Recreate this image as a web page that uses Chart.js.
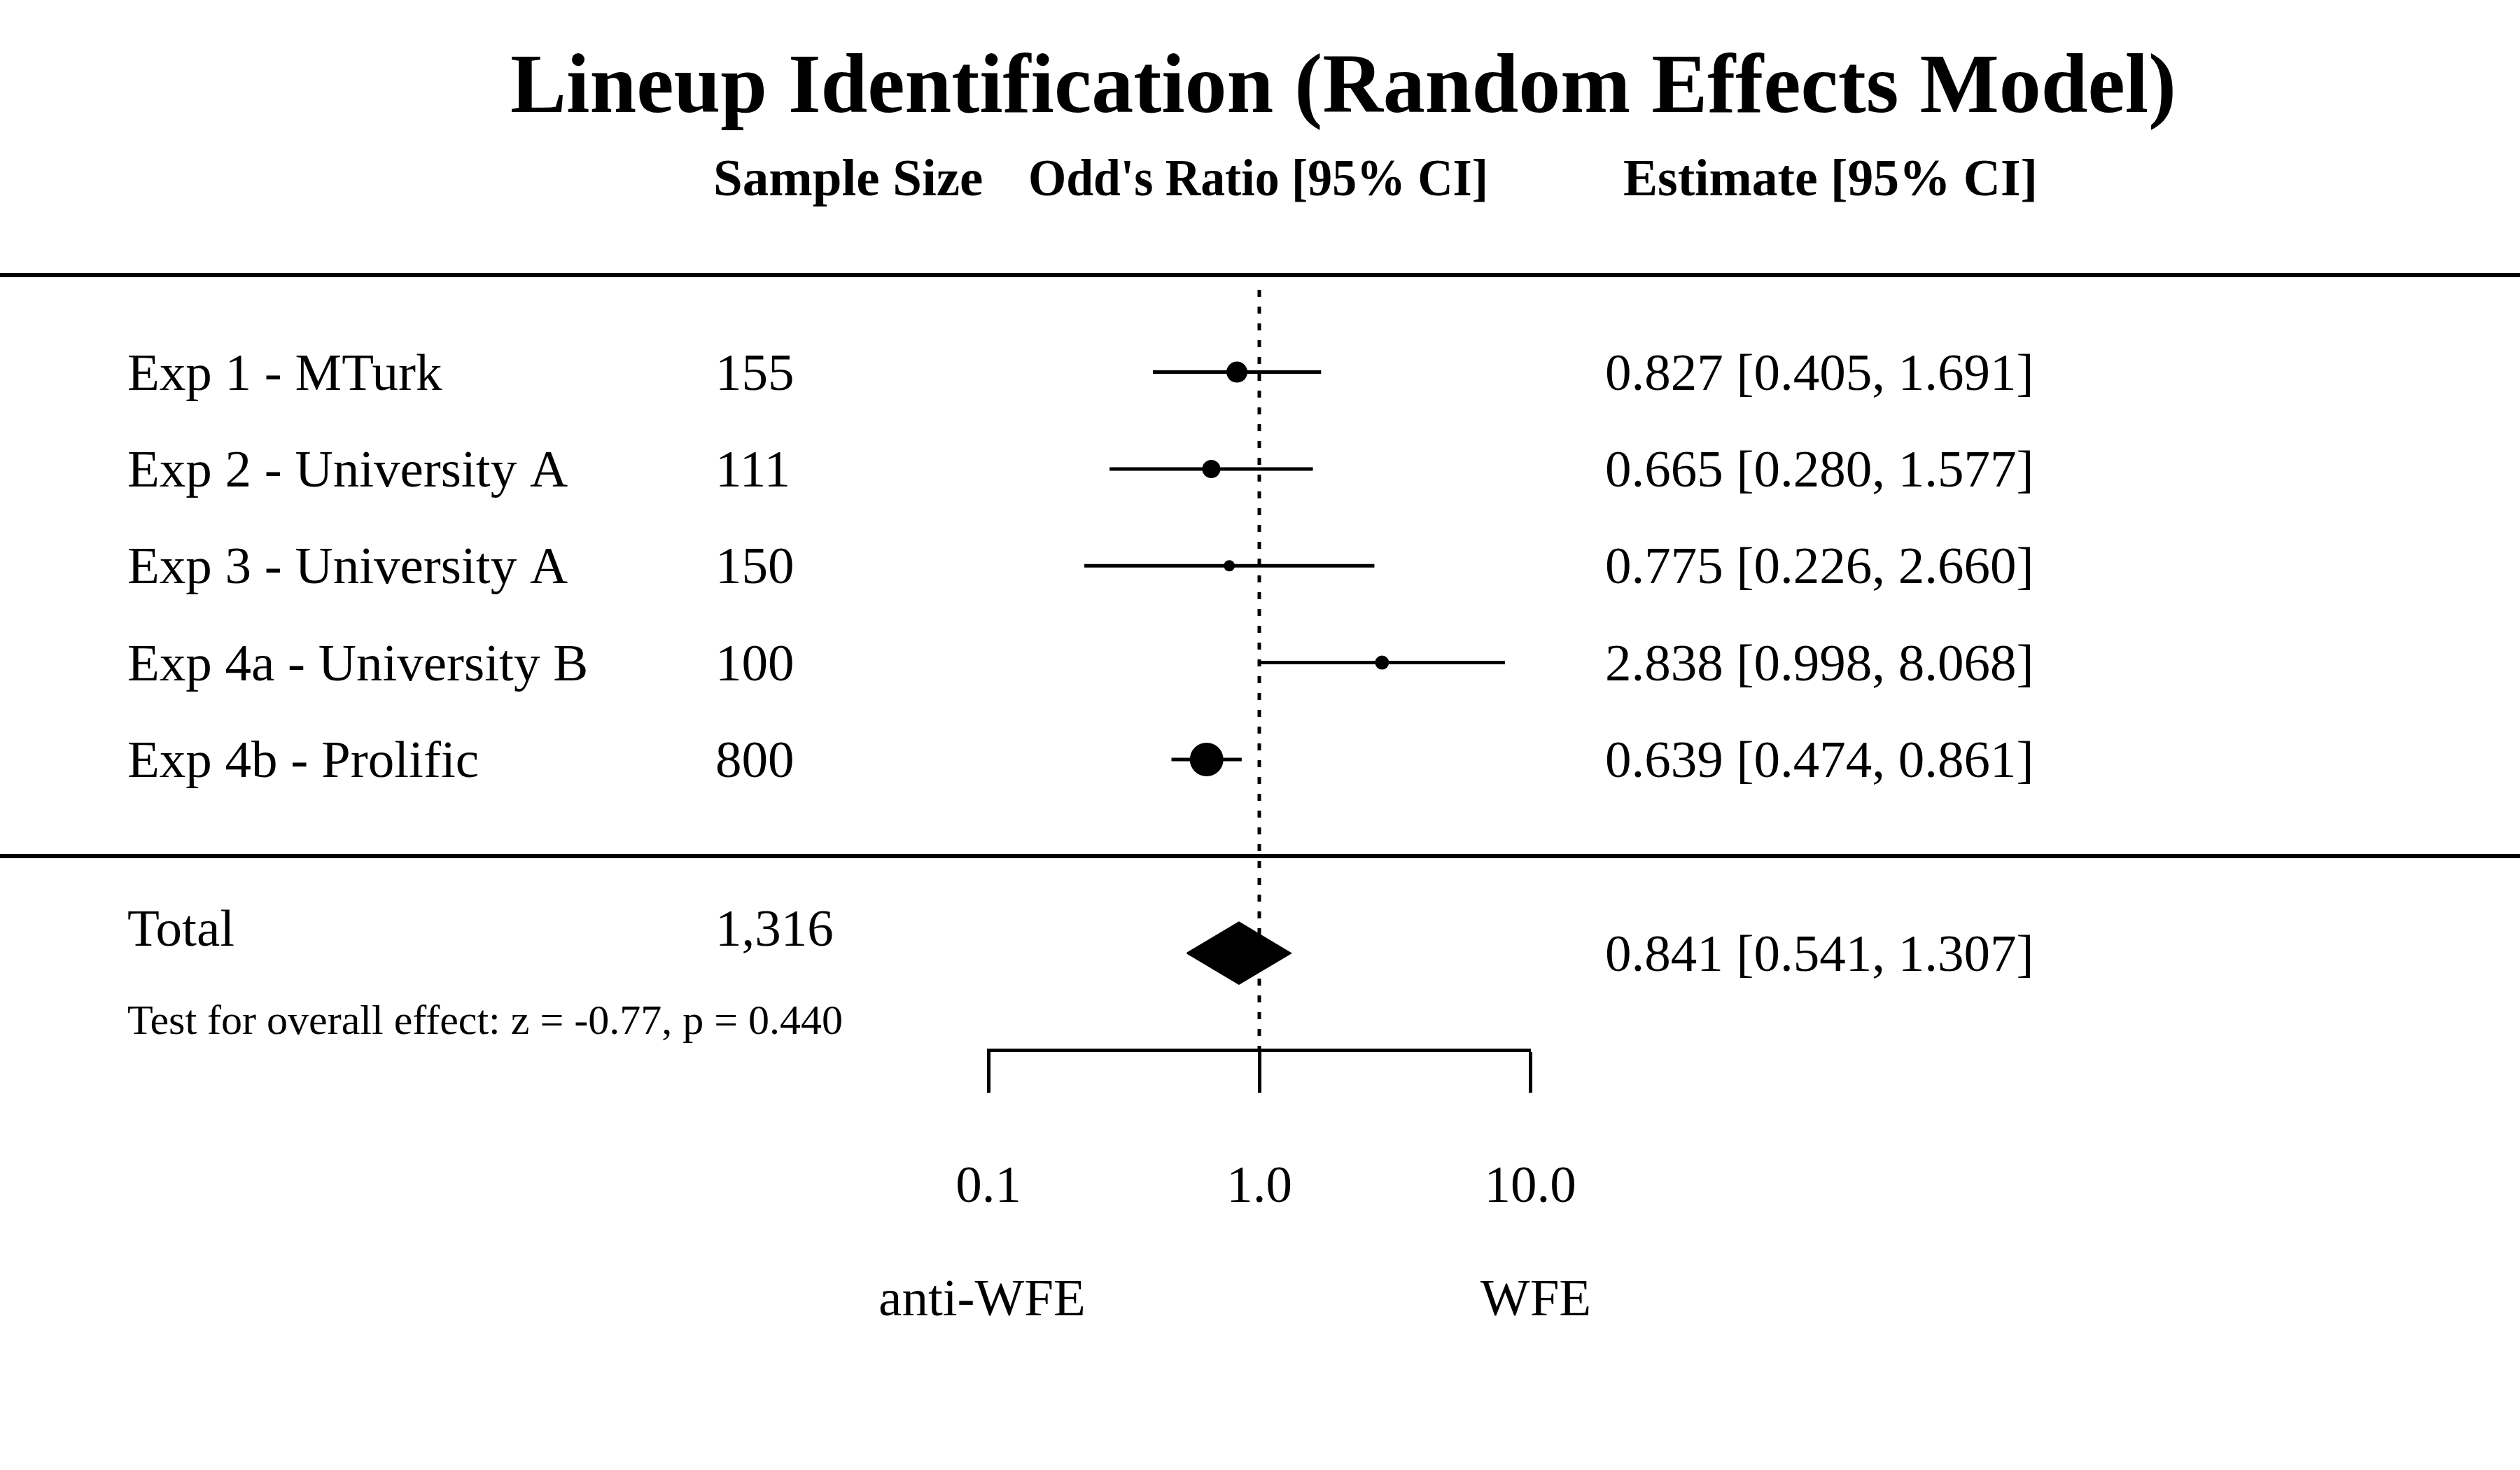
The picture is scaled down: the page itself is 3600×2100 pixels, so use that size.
<!DOCTYPE html>
<html>
<head>
<meta charset="utf-8">
<title>Lineup Identification (Random Effects Model)</title>
<script src="https://cdn.jsdelivr.net/npm/chart.js@4/dist/chart.umd.min.js"></script>
<style>
  html, body { margin: 0; padding: 0; background: #fff; }
  #wrap { width: 3600px; height: 2100px; }
</style>
</head>
<body>
<div id="wrap"><canvas id="forest" width="3600" height="2100"></canvas></div>
<script>
// Study data
const studies = ['Exp 1 - MTurk', 'Exp 2 - University A', 'Exp 3 - University A', 'Exp 4a - University B', 'Exp 4b - Prolific'];
const sampleSizes = ['155', '111', '150', '100', '800'];
const estimates = [0.827, 0.665, 0.775, 2.838, 0.639];
const ciLower = [0.405, 0.280, 0.226, 0.998, 0.474];
const ciUpper = [1.691, 1.577, 2.660, 8.068, 0.861];

// Pooled result
const totalLabel = 'Total';
const totalN = '1,316';
const totalEst = [0.841];
const totalLower = [0.541];
const totalUpper = [1.307];
const overallTest = 'Test for overall effect: z = -0.77, p = 0.440';

// Axis
const xTicks = [0.1, 1, 10];
const sideLabels = ['anti-WFE', 'WFE'];

// Marker radius per study (box size)
const markerRadius = [15, 13, 8, 10, 24];

const FONT = "'Liberation Serif', 'Times New Roman', serif";
const TOTAL_ROW = 7;
const fmt = v => v.toFixed(3);
const ciText = (e, l, u) => `${fmt(e)} [${fmt(l)}, ${fmt(u)}]`;

// Text and rules drawn around the plot
const tablePlugin = {
    id: 'forestTable',
    beforeDatasetsDraw(chart) {
        const { ctx, scales: { y } } = chart;
        ctx.save();
        ctx.strokeStyle = '#000';
        ctx.lineWidth = 6;
        [0, 6].forEach(v => {
            const py = Math.round(y.getPixelForValue(v));
            ctx.beginPath();
            ctx.moveTo(0, py);
            ctx.lineTo(chart.width, py);
            ctx.stroke();
        });
        ctx.restore();
    },
    afterDraw(chart) {
        const { ctx, scales: { x, y } } = chart;
        ctx.save();
        ctx.fillStyle = '#000';
        ctx.textBaseline = 'alphabetic';

        // title + headers
        ctx.font = `bold 120px ${FONT}`;
        ctx.textAlign = 'center';
        ctx.fillText('Lineup Identification (Random Effects Model)', 1919, 160);
        ctx.font = `bold 75px ${FONT}`;
        ctx.textAlign = 'left';
        ctx.fillText('Sample Size', 1019, 279);
        ctx.fillText("Odd's Ratio [95% CI]", 1469, 279, 657);
        ctx.fillText('Estimate [95% CI]', 2319, 279, 592);

        // study rows
        ctx.font = `75px ${FONT}`;
        studies.forEach((name, i) => {
            const py = y.getPixelForValue(i + 1) + 25;
            ctx.fillText(name, 182, py);
            ctx.fillText(sampleSizes[i], 1022, py);
            ctx.fillText(ciText(estimates[i], ciLower[i], ciUpper[i]), 2293, py);
        });

        // total
        const ty = y.getPixelForValue(TOTAL_ROW);
        ctx.fillText(totalLabel, 182, ty - 11);
        ctx.fillText(totalN, 1022, ty - 11);
        ctx.fillText(ciText(totalEst[0], totalLower[0], totalUpper[0]), 2293, ty + 25);
        ctx.font = `60px ${FONT}`;
        ctx.fillText(overallTest, 182, y.getPixelForValue(7.8) + 5);

        // direction labels under the axis
        ctx.font = `75px ${FONT}`;
        ctx.textAlign = 'center';
        ctx.fillText(sideLabels[0], x.getPixelForValue(xTicks[0]) - 9, 1879);
        ctx.fillText(sideLabels[1], x.getPixelForValue(xTicks[2]) + 8, 1879);
        ctx.restore();
    }
};

const ciDatasets = studies.map((_, i) => ({
    type: 'line',
    data: [{ x: ciLower[i], y: i + 1 }, { x: ciUpper[i], y: i + 1 }],
    borderColor: '#000',
    borderWidth: 5,
    pointRadius: 0,
    fill: false
}));

const diamondHalf = 0.32;
const diamond = {
    type: 'line',
    data: [
        { x: totalLower[0], y: TOTAL_ROW },
        { x: totalEst[0], y: TOTAL_ROW - diamondHalf },
        { x: totalUpper[0], y: TOTAL_ROW },
        { x: totalEst[0], y: TOTAL_ROW + diamondHalf },
        { x: totalLower[0], y: TOTAL_ROW }
    ],
    borderColor: '#000',
    backgroundColor: '#000',
    borderWidth: 2,
    pointRadius: 0,
    fill: 'shape'
};

new Chart(document.getElementById('forest'), {
    type: 'scatter',
    data: {
        datasets: [
            {
                type: 'scatter',
                data: estimates.map((e, i) => ({ x: e, y: i + 1 })),
                pointRadius: markerRadius,
                pointBackgroundColor: '#000',
                pointBorderWidth: 0
            },
            diamond,
            ...ciDatasets,
            {
                type: 'line',
                data: [{ x: 1, y: 0.15 }, { x: 1, y: 8 }],
                borderColor: '#000',
                borderWidth: 5,
                borderDash: [10, 14],
                pointRadius: 0,
                fill: false
            }
        ]
    },
    options: {
        responsive: false,
        animation: false,
        devicePixelRatio: 1,
        layout: { padding: { left: 1412, right: 1414, top: 414, bottom: 200 } },
        plugins: { legend: { display: false }, tooltip: { enabled: false } },
        scales: {
            x: {
                type: 'logarithmic',
                min: 0.1,
                max: 10,
                afterBuildTicks: s => { s.ticks = xTicks.map(v => ({ value: v })); },
                afterFit: s => { s.height = 400; },
                grid: { drawOnChartArea: false, drawTicks: true, tickLength: 61, tickWidth: 5, tickColor: '#000' },
                border: { display: true, width: 5, color: '#000' },
                ticks: {
                    padding: 91,
                    color: '#000',
                    font: { family: FONT, size: 75 },
                    maxRotation: 0,
                    callback: v => Number(v).toFixed(1)
                }
            },
            y: { type: 'linear', display: false, reverse: true, min: 0.15, max: 8 }
        }
    },
    plugins: [tablePlugin]
});
</script>
</body>
</html>
